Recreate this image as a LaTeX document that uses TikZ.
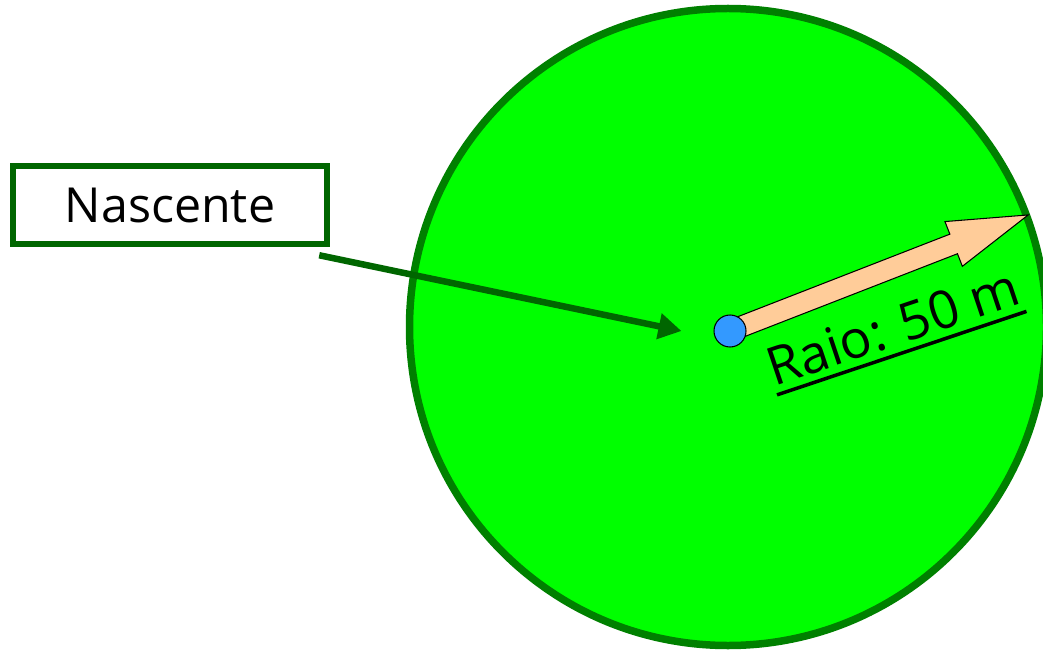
\documentclass[tikz,border=0pt]{standalone}
\usepackage{fontspec}
\setmainfont{Open Sans}
\usepackage{tikz}
\usetikzlibrary{arrows.meta, positioning, calc}

\definecolor{lawn}{HTML}{00FF00}
\definecolor{rim}{HTML}{008000}
\definecolor{deepgreen}{HTML}{006600}
\definecolor{peach}{HTML}{FFCC99}
\definecolor{springblue}{HTML}{3399FF}

\begin{document}
\begin{tikzpicture}[
  x=0.02cm, y=0.02cm,
  font=\fontsize{27.5}{32}\selectfont,
  labelbox/.style={draw=deepgreen, line width=0.13cm, fill=white,
    minimum width=6.28cm, minimum height=1.56cm, inner sep=0pt},
  pointer/.style={draw=deepgreen, line width=0.13cm,
    -{Triangle[length=0.46cm, width=0.5cm]}},
  radiusarrow/.style={draw=black, line width=0.6pt, fill=peach, line join=miter},
  source/.style={circle, draw=black, line width=0.6pt, fill=springblue,
    minimum size=0.64cm, inner sep=0pt}
]
  \useasboundingbox (0,0) rectangle (1043,653);
  \clip (0,0) rectangle (1043,653);

  % protected area
  \draw[draw=rim, fill=lawn, line width=0.15cm] (728,326) circle[radius=318.5];

  % radius
  \coordinate (spring) at (730,322);
  \begin{scope}[shift={(spring)}, rotate=21.27]
    \draw[radiusarrow] (0,-10.5) -- (240,-10.5) -- (240,-24) -- (320,0)
      -- (240,24) -- (240,10.5) -- (0,10.5) -- cycle;
  \end{scope}
  \node[source] (dot) at (spring) {};

  \node[rotate=18.5, inner xsep=0pt, inner ysep=0.15cm,
    font=\fontsize{30}{34}\selectfont] (raio) at (893,326) {Raio: 50 m};
  \draw[line width=0.07cm] (raio.south west) -- (raio.south east);

  % label
  \node[labelbox] (nascente) at (170,448) {Nascente};
  \draw[pointer] ([shift={(-11,-8)}]nascente.south east) -- ([xshift=-0.64cm]dot.west);
\end{tikzpicture}
\end{document}
